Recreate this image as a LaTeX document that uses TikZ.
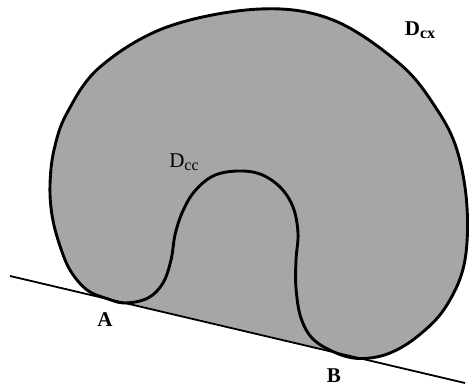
\documentclass[tikz,border=0pt]{standalone}
\usepackage{fontspec}
\setmainfont{Liberation Serif}
\usepackage{tikz}
\usetikzlibrary{positioning}
\definecolor{shapegray}{RGB}{166,166,166}
\newcommand{\lowsub}[1]{\raisebox{-0.35ex}{\fontsize{16}{16}\selectfont #1}}

\begin{document}
\begin{tikzpicture}[x=1pt, y=-1pt, line join=round]
  \tikzstyle{outline}=[draw=black, line width=2.9pt]
  \tikzstyle{ground}=[draw=black, line width=1.8pt]
  \tikzstyle{lbl}=[inner sep=0pt, font=\fontsize{21}{24}\selectfont]
  \useasboundingbox (0,0) rectangle (469,387);
  % contact line and the two contact points
  \coordinate (g1) at (10,276);
  \coordinate (g2) at (465,383);
  \coordinate (ptA) at (125,303);
  \coordinate (ptB) at (340,354.5);
  % gray body, the pocket between A and B filled too
  \fill[shapegray] plot[smooth cycle, tension=0.6] coordinates {
    (260,9) (333,20) (400,64) (436,108) (457,150) (467,207) (464,265)
    (445,308) (418,336) (390,353) (363,358.5) (340,354.5) (314,340)
    (301,318) (296,288) (296,260) (298,233) (293,207) (280,187) (260,174)
    (237,171) (213,176) (194,192) (182,213) (175,235) (171,260) (163,283)
    (148,298) (125,303) (107,298.6) (87,290) (70,270) (59,243) (52,215)
    (50,185) (54,150) (67,113) (100,67) (167,27)};
  \fill[shapegray] (ptA) -- plot[smooth, tension=0.6] coordinates {
    (125,303) (148,298) (163,283) (171,260) (175,235) (182,213) (194,192)
    (213,176) (237,171) (260,174) (280,187) (293,207) (298,233) (296,260)
    (296,288) (301,318) (314,340) (340,354.5)} -- (ptB) -- cycle;
  \draw[ground] (g1) -- (g2);
  \draw[outline] plot[smooth cycle, tension=0.6] coordinates {
    (260,9) (333,20) (400,64) (436,108) (457,150) (467,207) (464,265)
    (445,308) (418,336) (390,353) (363,358.5) (340,354.5) (314,340)
    (301,318) (296,288) (296,260) (298,233) (293,207) (280,187) (260,174)
    (237,171) (213,176) (194,192) (182,213) (175,235) (171,260) (163,283)
    (148,298) (125,303) (107,298.6) (87,290) (70,270) (59,243) (52,215)
    (50,185) (54,150) (67,113) (100,67) (167,27)};
  % labels
  \node[lbl] (dcx) at (420,30) {\textbf{D\lowsub{cx}}};
  \node[lbl] (dcc) at (184,162) {D\lowsub{cc}};
  \node[lbl] (lblA) at (105,320) {\textbf{A}};
  \node[lbl] (lblB) at (334,376) {\textbf{B}};
\end{tikzpicture}
\end{document}
